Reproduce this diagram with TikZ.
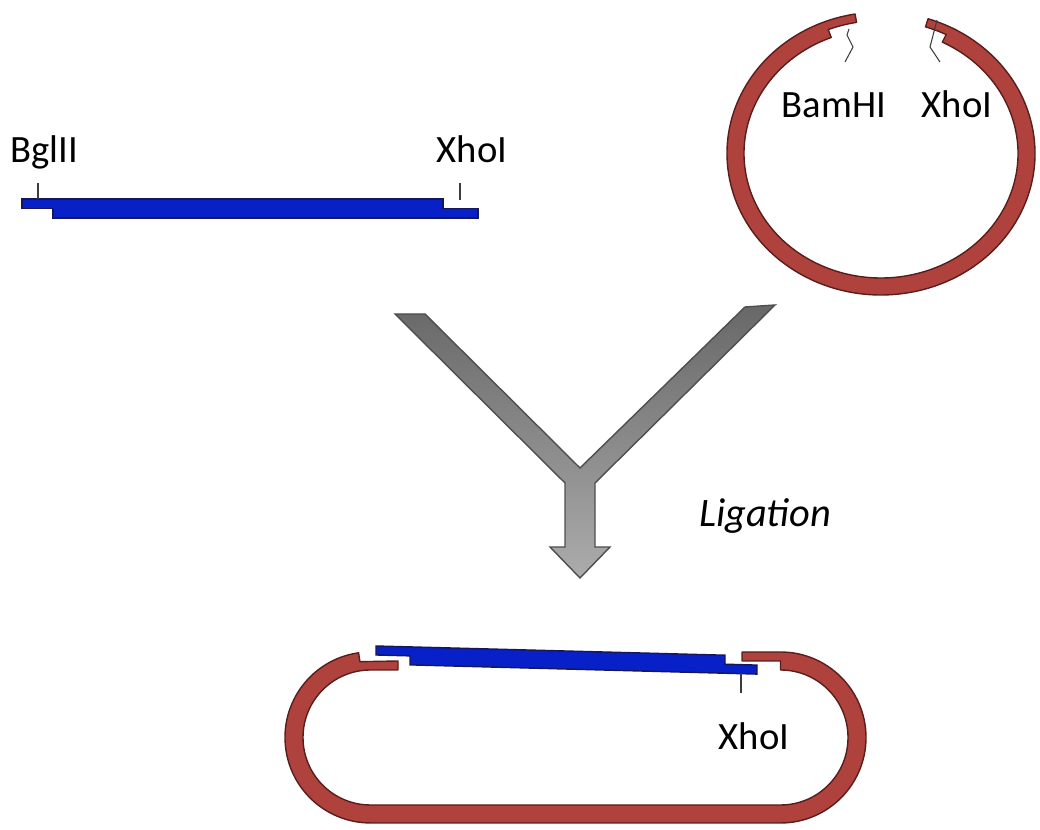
\documentclass[tikz,border=0pt]{standalone}
\usepackage{fontspec}
\setmainfont{Carlito}
\usetikzlibrary{calc}
\definecolor{vectorcolor}{RGB}{176,66,62}
\definecolor{vectorline}{RGB}{88,30,28}
\definecolor{insertcolor}{RGB}{8,32,200}
\definecolor{insertline}{RGB}{22,22,90}
\definecolor{arrowtop}{RGB}{104,104,104}
\definecolor{arrowbottom}{RGB}{172,172,172}
\definecolor{arrowline}{RGB}{78,78,78}
\definecolor{sitecolor}{RGB}{60,60,60}
\tikzset{
vectorstrand/.style={
  fill=vectorcolor,
  draw=vectorline,
  line width=0.8pt,
  line join=round
},
insertstrand/.style={
  fill=insertcolor,
  draw=insertline,
  line width=0.8pt
},
siteline/.style={
  draw=sitecolor,
  line width=0.6pt
},
sitelabel/.style={
  font=\fontsize{22}{26}\selectfont,
  anchor=base,
  inner sep=0pt
},
steplabel/.style={
  font=\itshape\fontsize{23}{28}\selectfont,
  anchor=base,
  inner sep=0pt
},
mergearrow/.style={
  top color=arrowtop,
  bottom color=arrowbottom,
  draw=arrowline,
  line width=0.8pt
}
}

\begin{document}
\begin{tikzpicture}[x=0.02cm,y=0.02cm]
  \useasboundingbox (0,0) rectangle (1040,830);

  % insert with sticky ends
  \draw[insertstrand] (22,631) -- (443,631) -- (443,621.5) -- (478,621.5)
    -- (478,612) -- (53,612) -- (53,621.5) -- (22,621.5) -- cycle;
  \coordinate (bglcut) at (38,631);
  \coordinate (xhocut) at (460,630);
  \draw[siteline] (bglcut) -- ++(0,16);
  \draw[siteline] (xhocut) -- ++(0,17);
  \node[sitelabel] (bgl) at (44,667) {BglII};
  \node[sitelabel] (xhofrag) at (472,667) {XhoI};

  % opened vector
  \begin{scope}[shift={(881,676.5)}]
    \draw[vectorstrand] (99.7:154 and 141.5)
      arc[start angle=99.7, end angle=432.2, x radius=154, y radius=141.5]
      -- (72.2:145.5 and 133)
      arc[start angle=72.2, end angle=63.4, x radius=145.5, y radius=133]
      -- (63.4:137 and 124.5)
      arc[start angle=63.4, end angle=-248.7, x radius=137, y radius=124.5]
      -- (111.3:145.5 and 133)
      arc[start angle=111.3, end angle=99.7, x radius=145.5, y radius=133]
      -- cycle;
  \end{scope}
  \coordinate (bamend) at (849,801);
  \coordinate (xhoend) at (937,810);
  \draw[siteline] (bamend) -- ++(-2,-6) -- ++(6,-12) -- ++(-8,-15);
  \draw[siteline] (xhoend) -- ++(-7,-27) -- ++(10,-15);
  \node[sitelabel] (bam) at (834,712) {BamHI};
  \node[sitelabel] (xhovec) at (957,712) {XhoI};

  % ligation arrow
  \draw[mergearrow] (395,516) -- (425,516) -- (580,362) -- (745,523)
    -- (775,525) -- (595,347) -- (595,283) -- (610,283) -- (580,252)
    -- (550,283) -- (565,283) -- (565,347) -- cycle;
  \node[steplabel] (lig) at (765,303) {Ligation};

  % recombinant plasmid
  \draw[vectorstrand] (358.6,177.2)
    arc[start angle=98, end angle=270, radius=85.5] -- (780.5,7)
    arc[start angle=-90, end angle=90, radius=85.5]
    -- (742,178) -- (742,169) -- (780.5,169) -- (780.5,160)
    arc[start angle=90, end angle=-90, radius=67.5] -- (370.5,25)
    arc[start angle=270, end angle=90, radius=67.5]
    -- (398,160) -- (398,169) -- (359.9,168.3) -- cycle;
  \draw[insertstrand] (376,184) -- (725,174.8) -- (725,165.8) -- (757,164.9)
    -- (757,155.9) -- (410,165.1) -- (410,174.1) -- (376,175) -- cycle;
  \coordinate (xhojoin) at (741,156.5);
  \draw[siteline] (xhojoin) -- ++(0,-20);
  \node[sitelabel] (xhoplasmid) at (754,80) {XhoI};
\end{tikzpicture}
\end{document}
